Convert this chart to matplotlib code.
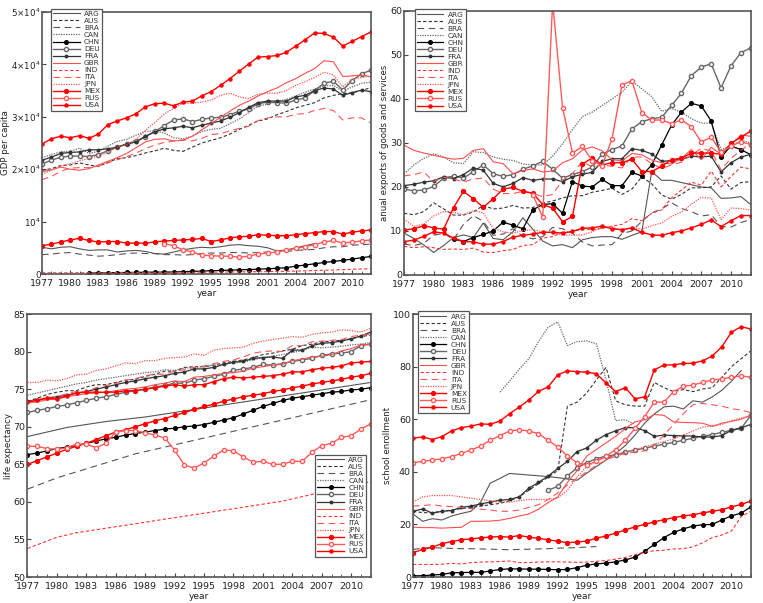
"""
4-panel country comparison (GDP, exports, life expectancy, school enrollment), 1977-2012.
"""
import numpy as np
import matplotlib
matplotlib.use("Agg")
import matplotlib.pyplot as plt

nan = np.nan
years = list(range(1977, 2013))
countries = ["ARG", "AUS", "BRA", "CAN", "CHN", "DEU", "FRA",
             "GBR", "IND", "ITA", "JPN", "MEX", "RUS", "USA"]

# ── GDP per capita ──────────────────────────────────────────
gdp_ARG = [5100, 4800, 5100, 5200, 4800, 4500, 4600, 4600, 4200, 4400, 4500, 4300, 3900, 3800, 4200, 4600, 4900, 5100,
           5000, 5200, 5500, 5600, 5400, 5300, 5000, 4400, 4600, 5000, 5400, 5800, nan, nan, nan, nan, nan, nan]
gdp_AUS = [19800, 20100, 20700, 20800, 21200, 20800, 20500, 21300, 22000, 22200, 22600, 23100, 23500, 24000, 23600, 23400, 24200, 25000,
           25500, 26000, 26700, 27600, 28400, 29200, 29600, 30400, 31000, 31700, 32200, 32700, 33600, 34100, 34400, 34600, 35000, 35600]
gdp_BRA = [3700, 3800, 4000, 4100, 3800, 3600, 3400, 3500, 3700, 3900, 4000, 3900, 3900, 3700, 3700, 3600, 3700, 3900,
           4000, 4000, 4100, 4100, 4000, 4100, 4200, 4300, 4300, 4500, 4600, 4700, 5000, 5200, 5200, 5500, 5600, 5700]
gdp_CAN = [22200, 22800, 23300, 23400, 24000, 23000, 23400, 24400, 25300, 25700, 26500, 27200, 27300, 26900, 26000, 25800, 26300, 27200,
           27600, 27800, 28700, 29600, 30800, 32100, 32400, 33000, 33300, 34000, 34700, 35300, 35900, 36000, 34900, 35700, 36400, 36600]
gdp_CHN = [nan, nan, nan, nan, nan, 190, 210, 240, 270, 290, 310, 340, 350, 360, 390, 440, 500, 560,
           620, 680, 740, 800, 850, 920, 1000, 1090, 1200, 1500, 1700, 1950, 2200, 2400, 2600, 2850, 3100, 3350]
gdp_DEU = [21000, 21700, 22300, 22500, 22500, 22400, 22800, 23500, 24200, 24800, 25300, 26200, 27200, 28300, 29400, 29600, 29100, 29500,
           29800, 29900, 30400, 31100, 31500, 32500, 32800, 32700, 32600, 33200, 33600, 35000, 36400, 36800, 35100, 36900, 38200, 38900]
gdp_FRA = [21700, 22300, 23000, 23200, 23300, 23700, 23700, 23900, 24200, 24800, 25200, 26300, 27100, 27700, 27900, 28200, 27900, 28400,
           28800, 29200, 29900, 30800, 31800, 32700, 33000, 33000, 33000, 33800, 34100, 35000, 35500, 35300, 34100, 34600, 35100, 34800]
gdp_GBR = [19500, 19900, 20400, 20000, 19800, 20100, 20800, 21500, 22200, 23000, 24100, 25200, 25700, 25800, 25400, 25500, 26300, 27500,
           28700, 29900, 31100, 32200, 33000, 34000, 34800, 35500, 36500, 37300, 38300, 39200, 40700, 40500, 37700, 37800, 38000, 37600]
gdp_IND = [230, 230, 220, 230, 240, 240, 250, 260, 260, 270, 280, 290, 300, 310, 300, 310, 330, 340,
           360, 370, 390, 400, 420, 440, 460, 480, 520, 560, 610, 660, 720, 770, 830, 900, 960, 1010]
gdp_ITA = [18000, 18600, 19600, 20200, 20300, 20300, 20600, 21200, 21800, 22400, 23100, 23900, 24600, 25100, 25400, 25600, 25400, 25900,
           26600, 26800, 27300, 27800, 28200, 29300, 29800, 30000, 30000, 30500, 30600, 31200, 31600, 31200, 29400, 29800, 29800, 28800]
gdp_JPN = [19000, 19800, 20600, 21000, 21600, 22100, 22500, 23200, 24200, 24700, 25700, 27400, 28900, 30500, 31600, 32600, 32600, 32800,
           33200, 34100, 34500, 33800, 33500, 34300, 34500, 34500, 35000, 36000, 36700, 37500, 38500, 38000, 35700, 37200, 37500, 37800]
gdp_MEX = [5400, 5700, 6100, 6500, 6800, 6400, 6100, 6200, 6200, 5900, 5900, 5900, 6100, 6300, 6400, 6500, 6600, 6800,
           6200, 6500, 6900, 7100, 7200, 7500, 7400, 7300, 7300, 7500, 7700, 7900, 8100, 8100, 7600, 8000, 8200, 8400]
gdp_RUS = [nan] * 13 + [5800, 5400, 4600, 4200, 3600, 3500, 3400, 3400, 3200, 3400, 3800, 4000, 4200, 4500, 4900,
                        5200, 5600, 6100, 6400, 5900, 6100, 6300, 6500]
gdp_USA = [24800, 25800, 26300, 26000, 26400, 25900, 26700, 28500, 29200, 29800, 30600, 31900, 32500, 32600, 32100, 32800, 33000, 34000,
           34800, 36000, 37300, 38700, 40100, 41400, 41500, 41700, 42300, 43500, 44700, 46000, 45900, 45200, 43500, 44400, 45300, 46200]

# ── exports (% of GDP) ──────────────────────────────────────
exp_ARG = [9.5, 8.3, 6.8, 5.1, 6.7, 8.5, 9.1, 8.5, 11.8, 8.3, 8.0, 9.8, 13.0, 10.4, 7.7, 6.6, 6.9, 6.2,
           8.0, 8.5, 8.7, 8.7, 8.1, 9.0, 9.8, 23.5, 21.5, 21.5, 21.0, 20.5, 20.0, 19.8, 17.4, 17.5, 17.8, 16.0]
exp_AUS = [14.0, 13.7, 14.4, 16.4, 15.0, 13.6, 13.6, 14.3, 15.8, 15.0, 15.2, 15.8, 15.2, 15.3, 16.3, 16.8, 17.5, 18.0,
           18.0, 18.8, 19.2, 19.7, 18.3, 19.5, 22.3, 20.7, 18.2, 17.2, 18.3, 19.8, 19.8, 20.0, 22.5, 19.5, 21.0, 21.2]
exp_BRA = [7.0, 6.7, 7.2, 9.0, 9.5, 8.0, 11.5, 13.5, 12.2, 9.0, 9.3, 10.5, 8.8, 8.2, 8.7, 10.8, 10.5, 9.5,
           7.5, 6.6, 6.8, 6.9, 9.4, 10.0, 12.2, 14.1, 15.0, 16.4, 15.1, 14.4, 13.4, 13.7, 11.0, 10.9, 11.9, 12.6]
exp_CAN = [23.0, 25.0, 26.5, 27.5, 26.8, 25.5, 25.3, 28.0, 27.8, 26.8, 26.3, 26.0, 25.2, 25.0, 25.0, 27.0, 29.8, 33.0,
           36.0, 37.0, 38.5, 40.0, 41.5, 44.0, 42.3, 40.5, 37.2, 37.8, 37.0, 35.5, 34.5, 34.5, 28.5, 29.2, 30.6, 30.0]
exp_CHN = [nan, nan, nan, nan, nan, 8.2, 7.6, 8.5, 9.2, 10.0, 12.0, 11.3, 10.5, 14.8, 16.0, 16.2, 14.0, 21.2,
           20.2, 20.0, 21.7, 20.3, 20.3, 23.3, 22.5, 25.0, 29.5, 34.0, 37.0, 39.0, 38.4, 35.0, 26.8, 29.3, 28.5, 27.3]
exp_DEU = [19.5, 19.1, 19.3, 20.1, 22.0, 22.5, 22.0, 23.5, 25.0, 23.0, 22.4, 22.8, 24.0, 24.8, 25.8, 24.0, 22.0, 22.8,
           23.5, 24.5, 27.5, 28.5, 29.3, 33.2, 34.8, 35.5, 35.8, 38.5, 41.3, 45.3, 47.2, 48.0, 42.5, 47.5, 50.5, 51.6]
exp_FRA = [20.3, 20.6, 21.1, 21.4, 22.3, 21.9, 22.8, 24.3, 23.8, 20.8, 20.0, 20.8, 22.1, 21.5, 21.8, 21.8, 21.2, 22.3,
           22.9, 23.3, 25.8, 26.4, 26.4, 28.7, 28.3, 27.5, 25.8, 26.0, 26.3, 27.0, 26.8, 27.0, 23.4, 25.5, 26.8, 27.4]
exp_GBR = [29.5, 28.3, 27.7, 27.2, 26.7, 26.3, 26.5, 28.3, 28.7, 25.7, 25.3, 23.0, 23.7, 24.1, 23.4, 23.6, 25.5, 26.4,
           28.4, 29.1, 28.2, 26.2, 25.9, 27.6, 27.3, 26.1, 25.5, 25.2, 26.5, 28.5, 26.2, 29.0, 27.4, 29.6, 31.8, 31.5]
exp_IND = [6.5, 6.2, 6.4, 6.2, 5.8, 5.9, 5.8, 6.1, 5.2, 5.1, 5.5, 5.8, 6.7, 6.9, 8.4, 8.7, 9.7, 9.7,
           10.6, 10.2, 10.6, 11.1, 11.5, 12.8, 12.3, 14.0, 14.8, 17.5, 19.3, 21.1, 20.4, 23.6, 20.0, 22.4, 24.5, 24.1]
exp_ITA = [22.5, 22.8, 23.4, 21.2, 22.2, 21.8, 21.1, 21.8, 22.0, 19.5, 18.5, 18.5, 19.0, 18.5, 17.8, 18.3, 21.5, 23.0,
           25.8, 24.5, 25.0, 24.7, 24.3, 26.8, 26.8, 25.3, 24.2, 25.0, 25.6, 27.3, 28.7, 28.2, 23.9, 26.5, 28.3, 30.0]
exp_JPN = [12.7, 11.0, 11.6, 13.4, 14.4, 14.2, 13.7, 14.6, 14.1, 10.6, 9.8, 9.5, 10.1, 10.3, 9.8, 9.6, 9.1, 9.0,
           9.1, 9.8, 10.9, 10.9, 10.1, 10.8, 10.4, 11.2, 11.8, 13.3, 14.3, 16.1, 17.6, 17.5, 12.6, 15.2, 15.1, 14.7]
exp_MEX = [10.2, 10.5, 11.2, 10.7, 10.4, 15.3, 19.0, 17.3, 15.4, 17.3, 19.5, 19.9, 19.0, 18.6, 16.0, 15.2, 12.1, 13.3,
           25.2, 26.6, 25.0, 25.5, 25.5, 26.3, 23.5, 23.5, 24.7, 26.2, 26.5, 27.7, 27.7, 27.7, 27.4, 29.9, 31.3, 32.7]
exp_RUS = [nan] * 13 + [18.2, 13.1, 62.0, 38.0, 27.7, 29.2, 26.0, 24.8, 31.0, 43.2, 44.1, 36.9, 35.2, 35.2, 34.4,
                        35.2, 33.7, 30.2, 31.3, 27.9, 29.2, 30.3, 29.6]
exp_USA = [7.6, 7.9, 8.8, 9.8, 9.5, 8.4, 7.6, 7.5, 7.0, 7.0, 7.6, 8.6, 9.0, 9.3, 9.7, 9.7, 9.5, 9.9,
           10.6, 10.7, 11.1, 10.5, 10.3, 10.7, 9.7, 9.1, 9.0, 9.6, 10.0, 10.7, 11.5, 12.5, 11.0, 12.3, 13.5, 13.5]

# ── life expectancy ─────────────────────────────────────────
life_ARG = [68.7, 69.0, 69.3, 69.6, 69.9, 70.1, 70.3, 70.5, 70.7, 70.85, 71.0, 71.15, 71.3, 71.5, 71.7, 71.9, 72.1, 72.3,
            72.5, 72.7, 72.9, 73.1, 73.3, 73.5, 73.7, 73.9, 74.1, 74.3, 74.5, 74.7, 74.9, 75.1, 75.3, 75.5, 75.7, 75.9]
life_AUS = [73.4, 73.8, 74.3, 74.6, 74.8, 74.8, 75.3, 75.6, 75.6, 75.9, 76.2, 76.3, 76.7, 77.0, 77.4, 77.4, 77.9, 78.0,
            78.0, 78.2, 78.5, 78.7, 78.9, 79.2, 79.6, 79.8, 80.1, 80.3, 80.8, 81.0, 81.3, 81.4, 81.5, 81.7, 82.0, 82.2]
life_BRA = [61.7, 62.2, 62.7, 63.2, 63.6, 64.0, 64.4, 64.8, 65.2, 65.6, 66.0, 66.4, 66.7, 67.0, 67.3, 67.6, 67.9, 68.2,
            68.5, 68.8, 69.1, 69.4, 69.7, 70.0, 70.3, 70.6, 70.9, 71.2, 71.5, 71.8, 72.1, 72.4, 72.7, 73.0, 73.3, 73.6]
life_CAN = [74.2, 74.5, 74.8, 75.1, 75.4, 75.7, 75.9, 76.2, 76.4, 76.6, 76.8, 77.0, 77.2, 77.3, 77.6, 77.5, 77.8, 77.9,
            78.0, 78.2, 78.3, 78.5, 78.6, 78.9, 79.2, 79.4, 79.6, 79.9, 80.1, 80.6, 80.5, 80.6, 80.7, 80.9, 81.0, 81.2]
life_CHN = [66.3, 66.5, 66.8, 67.1, 67.3, 67.5, 67.8, 68.1, 68.4, 68.6, 68.9, 69.1, 69.3, 69.5, 69.7, 69.8, 70.0, 70.1,
            70.3, 70.6, 70.9, 71.2, 71.7, 72.2, 72.7, 73.1, 73.5, 73.8, 74.0, 74.2, 74.4, 74.6, 74.7, 74.9, 75.0, 75.2]
life_DEU = [71.9, 72.2, 72.4, 72.7, 72.9, 73.2, 73.5, 73.8, 74.0, 74.3, 74.6, 74.8, 75.0, 75.3, 75.5, 75.8, 75.8, 76.2,
            76.4, 76.7, 77.0, 77.5, 77.7, 77.9, 78.3, 78.2, 78.4, 78.7, 78.9, 79.1, 79.5, 79.7, 79.8, 80.0, 80.8, 81.0]
life_FRA = [73.4, 73.6, 73.8, 74.0, 74.2, 74.5, 74.7, 75.0, 75.3, 75.6, 75.9, 76.1, 76.4, 76.6, 76.8, 77.1, 77.3, 77.7,
            77.7, 77.9, 78.3, 78.6, 78.7, 79.1, 79.2, 79.3, 79.1, 80.2, 80.2, 80.8, 81.1, 81.2, 81.4, 81.7, 82.1, 82.6]
life_GBR = [73.2, 73.3, 73.6, 73.7, 74.0, 74.2, 74.4, 74.5, 74.6, 74.8, 75.0, 75.1, 75.3, 75.6, 75.8, 76.1, 76.0, 76.6,
            76.7, 76.9, 77.1, 77.2, 77.4, 77.8, 78.0, 78.2, 78.3, 78.8, 79.0, 79.3, 79.4, 79.6, 80.1, 80.4, 80.9, 81.0]
life_IND = [53.8, 54.3, 54.8, 55.3, 55.6, 55.9, 56.1, 56.3, 56.5, 56.7, 56.9, 57.1, 57.3, 57.5, 57.7, 57.9, 58.1, 58.3,
            58.5, 58.7, 58.9, 59.1, 59.3, 59.5, 59.7, 59.9, 60.1, 60.4, 60.7, 61.0, 61.2, 61.5, 61.8, 62.1, 62.4, 62.7]
life_ITA = [73.3, 73.6, 73.9, 74.0, 74.4, 74.7, 74.7, 75.2, 75.5, 75.8, 76.2, 76.4, 76.8, 77.0, 77.0, 77.4, 77.6, 77.9,
            78.1, 78.4, 78.7, 78.9, 79.3, 79.8, 80.0, 80.1, 80.0, 80.8, 80.8, 81.3, 81.4, 81.5, 81.6, 82.0, 82.2, 82.3]
life_JPN = [75.9, 75.9, 76.2, 76.1, 76.4, 76.9, 77.0, 77.5, 77.7, 78.1, 78.5, 78.4, 78.8, 78.8, 79.1, 79.2, 79.3, 79.7,
            79.5, 80.2, 80.4, 80.5, 80.6, 81.1, 81.4, 81.6, 81.8, 82.0, 81.9, 82.3, 82.5, 82.6, 82.9, 82.8, 82.6, 83.1]
life_MEX = [65.0, 65.5, 66.0, 66.5, 67.0, 67.4, 67.8, 68.3, 68.8, 69.3, 69.6, 70.0, 70.4, 70.8, 71.1, 71.5, 71.9, 72.3,
            72.7, 73.0, 73.4, 73.7, 74.0, 74.2, 74.4, 74.7, 74.9, 75.2, 75.4, 75.7, 75.9, 76.1, 76.3, 76.6, 76.8, 77.1]
life_RUS = [67.4, 67.4, 67.1, 67.0, 67.2, 67.7, 67.7, 67.2, 67.8, 69.3, 69.5, 69.5, 69.2, 68.9, 68.5, 66.9, 64.9, 64.5,
            65.2, 66.1, 66.9, 66.8, 66.0, 65.3, 65.4, 65.0, 65.0, 65.4, 65.4, 66.6, 67.5, 67.8, 68.6, 68.8, 69.7, 70.4]
life_USA = [73.3, 73.5, 73.8, 73.7, 74.1, 74.5, 74.6, 74.6, 74.6, 74.6, 74.8, 74.8, 75.0, 75.2, 75.4, 75.6, 75.4, 75.6,
            75.6, 76.0, 76.4, 76.6, 76.5, 76.6, 76.7, 76.8, 77.0, 77.3, 77.3, 77.6, 77.8, 77.9, 78.1, 78.5, 78.6, 78.7]

# ── school enrollment ───────────────────────────────────────
sch_ARG = [24.0, 21.2, 22.2, 21.7, 23.2, 24.2, 25.0, 28.5, 35.7, 37.5, 39.4, 39.1, 38.8, 38.5, 38.2, 37.8, 37.3, 36.8,
           39.5, 42.0, 44.5, 47.0, 50.0, 54.0, 58.5, 62.0, 64.7, 65.0, 63.9, 67.0, 66.5, 68.5, 71.0, 74.5, 78.5, nan]
sch_AUS = [25.0, 24.5, 24.5, 25.0, 25.5, 26.0, 26.5, 27.0, 27.5, 28.0, 29.0, 30.5, 33.0, 35.5, 38.0, 40.5, 65.0, 66.5,
           70.0, 75.0, 79.7, 67.0, 65.5, 65.0, 65.0, 74.0, 72.0, 70.5, 71.3, 70.5, 71.5, 72.0, 76.0, 80.0, 83.0, 86.0]
sch_BRA = [10.5, 11.0, 11.2, 11.0, 10.9, 10.8, 10.8, 10.7, 10.6, 10.5, 10.4, 10.5, 10.6, 10.7, 10.8, 11.0, 11.1, 11.2,
           11.4, 11.6, nan, nan, nan, nan, nan, nan, nan, nan, nan, nan, nan, nan, nan, nan, nan, nan]
sch_CAN = [nan] * 9 + [70.3, 74.5, 79.0, 83.0, 89.5, 95.0, 97.0, 88.0, 89.5, 89.8, 88.7, 75.0, 59.5, 59.8, 58.0] + [nan] * 12
sch_CHN = [0.5, 0.5, 0.8, 1.0, 1.6, 1.7, 1.8, 1.8, 2.3, 2.9, 3.1, 3.1, 3.0, 3.0, 2.9, 2.8, 2.9, 3.6,
           4.5, 5.0, 5.3, 5.8, 6.5, 7.6, 9.8, 12.4, 15.0, 17.0, 18.3, 19.4, 19.9, 20.0, 21.7, 23.3, 24.3, 26.7]
sch_DEU = [nan] * 14 + [33.0, 34.5, 38.5, 41.5, 43.5, 45.0, 46.0, 46.5, 47.5, 48.3, 49.0, 49.8, 50.5, 51.2,
                        52.0, 52.8, 53.5, 54.2, 55.0, 55.8, 56.5, 61.5]
sch_FRA = [25.0, 25.9, 24.3, 25.0, 25.3, 26.5, 27.0, 27.8, 28.5, 29.2, 29.5, 30.5, 33.8, 36.0, 38.4, 41.3, 44.0, 47.7,
           49.1, 52.0, 54.2, 55.6, 56.8, 56.8, 55.7, 53.5, 54.0, 53.8, 53.7, 53.6, 53.3, 53.2, 53.8, 55.8, 56.8, 58.0]
sch_GBR = [19.0, 18.8, 18.8, 18.6, 18.8, 18.9, 21.2, 21.2, 21.3, 21.6, 22.3, 23.2, 24.0, 25.8, 28.3, 30.5, 36.0, 40.5,
           46.0, 48.5, 51.0, 53.5, 56.5, 59.0, 59.8, 61.8, 61.5, 59.0, 58.8, 58.7, 58.5, 57.3, 58.5, 59.2, 60.0, 61.5]
sch_IND = [4.8, 4.8, 4.8, 4.9, 5.2, 5.0, 5.5, 5.7, 5.8, 5.9, 6.1, 5.5, 5.5, 5.7, 5.8, 5.8, 5.7, 5.6,
           5.7, 6.0, 6.3, 6.8, 7.5, 8.5, 9.5, 10.0, 10.2, 10.7, 10.8, 11.5, 13.0, 15.0, 16.0, 17.5, 23.0, 25.0]
sch_ITA = [27.0, 27.2, 27.5, 27.0, 26.8, 26.5, 26.0, 25.8, 25.5, 25.0, 25.0, 25.5, 26.5, 27.5, 29.5, 32.0, 35.0, 37.5,
           40.0, 42.5, 44.5, 46.0, 47.0, 47.5, 48.0, 50.0, 54.0, 58.0, 62.0, 65.5, 66.0, 65.5, 65.0, 64.0, 63.5, 62.5]
sch_JPN = [28.5, 30.5, 31.0, 31.0, 31.0, 30.5, 30.0, 29.5, 29.0, 28.5, 28.5, 29.0, 29.5, 29.5, 29.5, 30.0, 33.0, 38.0,
           42.0, 44.0, 45.5, 46.5, 47.5, 48.5, 49.5, 50.5, 51.5, 52.5, 54.0, 55.5, 57.0, 57.5, 58.0, 59.5, 60.5, 61.5]
sch_MEX = [9.3, 10.5, 11.4, 12.7, 13.5, 14.2, 14.5, 14.9, 15.2, 15.4, 15.2, 15.8, 15.2, 14.7, 14.2, 13.6, 13.1, 13.3,
           13.7, 14.8, 15.6, 16.7, 17.9, 19.1, 20.0, 21.0, 21.8, 22.6, 23.2, 23.7, 24.4, 25.0, 25.6, 26.7, 27.6, 28.9]
sch_RUS = [43.5, 44.0, 44.5, 45.0, 45.8, 47.0, 48.3, 49.8, 52.0, 53.8, 55.5, 56.0, 55.5, 54.5, 52.0, 49.5, 46.0, 43.5,
           42.5, 44.0, 46.0, 48.5, 52.0, 56.5, 61.0, 66.5, 66.5, 70.5, 72.5, 73.0, 74.0, 75.0, 75.3, 76.0, 76.5, 76.0]
sch_USA = [52.8, 53.3, 52.3, 53.4, 55.6, 56.8, 57.4, 58.2, 58.1, 59.3, 62.1, 64.6, 67.3, 70.6, 72.3, 76.9, 78.4, 78.1,
           77.9, 77.3, 73.8, 70.5, 72.0, 67.8, 68.5, 78.8, 80.6, 80.7, 81.2, 81.3, 82.2, 84.0, 87.6, 93.1, 95.2, 94.3]

gdp = [gdp_ARG, gdp_AUS, gdp_BRA, gdp_CAN, gdp_CHN, gdp_DEU, gdp_FRA, gdp_GBR, gdp_IND, gdp_ITA, gdp_JPN, gdp_MEX, gdp_RUS, gdp_USA]
exports = [exp_ARG, exp_AUS, exp_BRA, exp_CAN, exp_CHN, exp_DEU, exp_FRA, exp_GBR, exp_IND, exp_ITA, exp_JPN, exp_MEX, exp_RUS, exp_USA]
life = [life_ARG, life_AUS, life_BRA, life_CAN, life_CHN, life_DEU, life_FRA, life_GBR, life_IND, life_ITA, life_JPN, life_MEX, life_RUS, life_USA]
school = [sch_ARG, sch_AUS, sch_BRA, sch_CAN, sch_CHN, sch_DEU, sch_FRA, sch_GBR, sch_IND, sch_ITA, sch_JPN, sch_MEX, sch_RUS, sch_USA]

# 국가별 선 스타일 (회색 계열 7개, 빨강 계열 7개)
styles = {
    "ARG": dict(color="#555555", ls="-", lw=0.8),
    "AUS": dict(color="#333333", ls=(0, (3, 2)), lw=0.8),
    "BRA": dict(color="#555555", ls=(0, (6, 4)), lw=0.8),
    "CAN": dict(color="#666666", ls=(0, (1, 1)), lw=0.9),
    "CHN": dict(color="black", ls="-", lw=0.9, marker="o", ms=2.6),
    "DEU": dict(color="#666666", ls="-", lw=1.0, marker="o", ms=3, mfc="white"),
    "FRA": dict(color="#333333", ls="-", lw=0.9, marker="o", ms=1.8),
    "GBR": dict(color="#ff4d4d", ls="-", lw=0.8),
    "IND": dict(color="#ff3333", ls=(0, (3, 2)), lw=0.8),
    "ITA": dict(color="#ff5555", ls=(0, (6, 4)), lw=0.8),
    "JPN": dict(color="#ff5555", ls=(0, (1, 1)), lw=0.9),
    "MEX": dict(color="red", ls="-", lw=1.0, marker="o", ms=2.8),
    "RUS": dict(color="#ff5a5a", ls="-", lw=1.0, marker="o", ms=3, mfc="white"),
    "USA": dict(color="red", ls="-", lw=1.0, marker="o", ms=2.2),
}


def draw_panel(ax, series, ylabel, ylim, yticks, yticklabels, legend_kw):
    for name, vals in zip(countries, series):
        ax.plot(years, vals, label=name, **styles[name])
    ax.set_xlim(1977, 2012)
    ax.set_ylim(*ylim)
    ax.set_xticks(range(1977, 2013, 3))
    ax.set_xticks(range(1977, 2013), minor=True)
    ax.set_yticks(yticks)
    if yticklabels is not None:
        ax.set_yticklabels(yticklabels)
    ax.tick_params(direction="in", labelsize=6.8, length=3, color="#444444", labelcolor="#222222")
    ax.tick_params(axis="x", pad=3.5)
    ax.tick_params(axis="y", pad=1.5)
    ax.tick_params(which="minor", direction="in", length=2, color="#444444")
    for sp in ax.spines.values():
        sp.set_color("#555555"); sp.set_linewidth(1.2)
    ax.set_xlabel("year", fontsize=6.5, labelpad=0.5, color="#222222")
    ax.set_ylabel(ylabel, fontsize=6.2, labelpad=0.5, color="#222222")
    leg = ax.legend(fontsize=5.3, handlelength=3.6, labelspacing=0.12, borderpad=0.3,
                    handletextpad=0.6, fancybox=False, framealpha=1, **legend_kw)
    leg.get_frame().set_edgecolor("#555555"); leg.get_frame().set_linewidth(0.9)
    for t in leg.get_texts():
        t.set_color("#333333")


fig = plt.figure(figsize=(7.63, 6.03), dpi=100)
ax1 = fig.add_axes([0.0550, 0.5456, 0.4312, 0.4345])
ax2 = fig.add_axes([0.5295, 0.5440, 0.4545, 0.4380])
ax3 = fig.add_axes([0.0360, 0.0430, 0.4500, 0.4362])
ax4 = fig.add_axes([0.5413, 0.0430, 0.4427, 0.4362])

draw_panel(ax1, gdp, "GDP per capita", (0, 50000), [0, 10000, 20000, 30000, 40000, 50000],
           ["0", r"$10^{4}$", r"$2{\times}10^{4}$", r"$3{\times}10^{4}$", r"$4{\times}10^{4}$", r"$5{\times}10^{4}$"],
           dict(loc="upper left", bbox_to_anchor=(0.016, 1.027)))
ax1.tick_params(axis="y", labelsize=6.3, pad=1)
draw_panel(ax2, exports, "anual exports of goods and services", (0, 60), range(0, 61, 10), None,
           dict(loc="upper left", bbox_to_anchor=(0.02, 1.02)))
draw_panel(ax3, life, "life expectancy", (50, 85), range(50, 86, 5), None,
           dict(loc="lower right", bbox_to_anchor=(0.998, 0.064)))
draw_panel(ax4, school, "school enrollment", (0, 100), range(0, 101, 20), None,
           dict(loc="upper left", bbox_to_anchor=(0.003, 1.025)))

fig.savefig("out.png", dpi=100)
